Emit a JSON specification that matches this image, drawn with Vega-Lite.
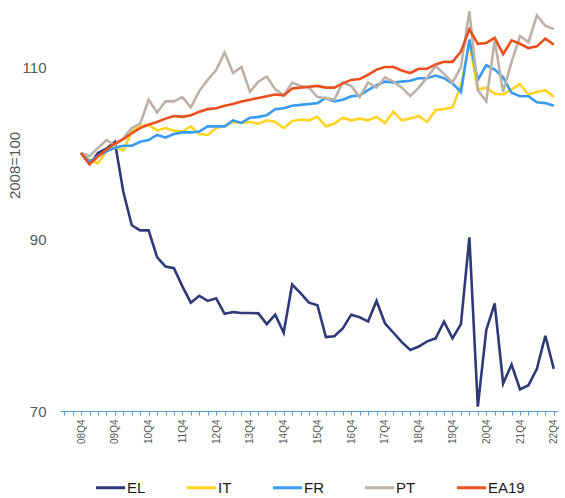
{
"$schema":"https://vega.github.io/schema/vega-lite/v6.json",
"width":498,"height":406,
"autosize":{"type":"none"},
"padding":{"left":60,"top":5,"right":7,"bottom":87},
"config":{"view":{"stroke":null},"font":"Liberation Sans"},
"data":{"values":[
{"s":"EL","q":"08Q4","v":100},{"s":"EL","q":"09Q1","v":98.7},{"s":"EL","q":"09Q2","v":100.0},{"s":"EL","q":"09Q3","v":100.5},{"s":"EL","q":"09Q4","v":101.3},
{"s":"EL","q":"10Q1","v":95.5},{"s":"EL","q":"10Q2","v":91.6},{"s":"EL","q":"10Q3","v":91.0},{"s":"EL","q":"10Q4","v":91.0},
{"s":"EL","q":"11Q1","v":87.9},{"s":"EL","q":"11Q2","v":86.8},{"s":"EL","q":"11Q3","v":86.6},{"s":"EL","q":"11Q4","v":84.5},
{"s":"EL","q":"12Q1","v":82.6},{"s":"EL","q":"12Q2","v":83.4},{"s":"EL","q":"12Q3","v":82.8},{"s":"EL","q":"12Q4","v":83.1},
{"s":"EL","q":"13Q1","v":81.3},{"s":"EL","q":"13Q2","v":81.5},{"s":"EL","q":"13Q3","v":81.4},{"s":"EL","q":"13Q4","v":81.4},
{"s":"EL","q":"14Q1","v":81.35},{"s":"EL","q":"14Q2","v":80.1},{"s":"EL","q":"14Q3","v":81.2},{"s":"EL","q":"14Q4","v":79.1},
{"s":"EL","q":"15Q1","v":84.7},{"s":"EL","q":"15Q2","v":83.7},{"s":"EL","q":"15Q3","v":82.6},{"s":"EL","q":"15Q4","v":82.3},
{"s":"EL","q":"16Q1","v":78.6},{"s":"EL","q":"16Q2","v":78.7},{"s":"EL","q":"16Q3","v":79.6},{"s":"EL","q":"16Q4","v":81.2},
{"s":"EL","q":"17Q1","v":80.9},{"s":"EL","q":"17Q2","v":80.4},{"s":"EL","q":"17Q3","v":82.8},{"s":"EL","q":"17Q4","v":80.2},
{"s":"EL","q":"18Q1","v":79.1},{"s":"EL","q":"18Q2","v":78.0},{"s":"EL","q":"18Q3","v":77.1},{"s":"EL","q":"18Q4","v":77.5},
{"s":"EL","q":"19Q1","v":78.1},{"s":"EL","q":"19Q2","v":78.45},{"s":"EL","q":"19Q3","v":80.4},{"s":"EL","q":"19Q4","v":78.45},
{"s":"EL","q":"20Q1","v":80.1},{"s":"EL","q":"20Q2","v":90.2},{"s":"EL","q":"20Q3","v":70.5},{"s":"EL","q":"20Q4","v":79.4},
{"s":"EL","q":"21Q1","v":82.5},{"s":"EL","q":"21Q2","v":73.2},{"s":"EL","q":"21Q3","v":75.4},{"s":"EL","q":"21Q4","v":72.5},
{"s":"EL","q":"22Q1","v":73.0},{"s":"EL","q":"22Q2","v":74.9},{"s":"EL","q":"22Q3","v":78.75},{"s":"EL","q":"22Q4","v":74.9},
{"s":"IT","q":"08Q4","v":100},{"s":"IT","q":"09Q1","v":99.2},{"s":"IT","q":"09Q2","v":98.8},{"s":"IT","q":"09Q3","v":100.2},{"s":"IT","q":"09Q4","v":100.7},
{"s":"IT","q":"10Q1","v":100.3},{"s":"IT","q":"10Q2","v":102.5},{"s":"IT","q":"10Q3","v":103.1},{"s":"IT","q":"10Q4","v":103.3},
{"s":"IT","q":"11Q1","v":102.6},{"s":"IT","q":"11Q2","v":102.9},{"s":"IT","q":"11Q3","v":102.6},{"s":"IT","q":"11Q4","v":102.5},
{"s":"IT","q":"12Q1","v":103.1},{"s":"IT","q":"12Q2","v":102.2},{"s":"IT","q":"12Q3","v":102.1},{"s":"IT","q":"12Q4","v":102.9},
{"s":"IT","q":"13Q1","v":103.1},{"s":"IT","q":"13Q2","v":103.6},{"s":"IT","q":"13Q3","v":103.5},{"s":"IT","q":"13Q4","v":103.6},
{"s":"IT","q":"14Q1","v":103.4},{"s":"IT","q":"14Q2","v":103.8},{"s":"IT","q":"14Q3","v":103.6},{"s":"IT","q":"14Q4","v":102.9},
{"s":"IT","q":"15Q1","v":103.7},{"s":"IT","q":"15Q2","v":103.9},{"s":"IT","q":"15Q3","v":103.8},{"s":"IT","q":"15Q4","v":104.2},
{"s":"IT","q":"16Q1","v":103.1},{"s":"IT","q":"16Q2","v":103.4},{"s":"IT","q":"16Q3","v":104.1},{"s":"IT","q":"16Q4","v":103.8},
{"s":"IT","q":"17Q1","v":104.0},{"s":"IT","q":"17Q2","v":103.8},{"s":"IT","q":"17Q3","v":104.2},{"s":"IT","q":"17Q4","v":103.5},
{"s":"IT","q":"18Q1","v":104.8},{"s":"IT","q":"18Q2","v":103.8},{"s":"IT","q":"18Q3","v":104.0},{"s":"IT","q":"18Q4","v":104.3},
{"s":"IT","q":"19Q1","v":103.6},{"s":"IT","q":"19Q2","v":105.0},{"s":"IT","q":"19Q3","v":105.1},{"s":"IT","q":"19Q4","v":105.3},
{"s":"IT","q":"20Q1","v":107.8},{"s":"IT","q":"20Q2","v":112.75},{"s":"IT","q":"20Q3","v":107.4},{"s":"IT","q":"20Q4","v":107.6},
{"s":"IT","q":"21Q1","v":106.9},{"s":"IT","q":"21Q2","v":106.8},{"s":"IT","q":"21Q3","v":107.4},{"s":"IT","q":"21Q4","v":108.0},
{"s":"IT","q":"22Q1","v":106.8},{"s":"IT","q":"22Q2","v":107.1},{"s":"IT","q":"22Q3","v":107.3},{"s":"IT","q":"22Q4","v":106.5},
{"s":"FR","q":"08Q4","v":100},{"s":"FR","q":"09Q1","v":99.0},{"s":"FR","q":"09Q2","v":99.65},{"s":"FR","q":"09Q3","v":100.2},{"s":"FR","q":"09Q4","v":100.6},
{"s":"FR","q":"10Q1","v":100.85},{"s":"FR","q":"10Q2","v":100.85},{"s":"FR","q":"10Q3","v":101.3},{"s":"FR","q":"10Q4","v":101.5},
{"s":"FR","q":"11Q1","v":102.1},{"s":"FR","q":"11Q2","v":101.8},{"s":"FR","q":"11Q3","v":102.2},{"s":"FR","q":"11Q4","v":102.4},
{"s":"FR","q":"12Q1","v":102.4},{"s":"FR","q":"12Q2","v":102.5},{"s":"FR","q":"12Q3","v":103.1},{"s":"FR","q":"12Q4","v":103.1},
{"s":"FR","q":"13Q1","v":103.1},{"s":"FR","q":"13Q2","v":103.8},{"s":"FR","q":"13Q3","v":103.5},{"s":"FR","q":"13Q4","v":104.1},
{"s":"FR","q":"14Q1","v":104.2},{"s":"FR","q":"14Q2","v":104.4},{"s":"FR","q":"14Q3","v":105.1},{"s":"FR","q":"14Q4","v":105.2},
{"s":"FR","q":"15Q1","v":105.5},{"s":"FR","q":"15Q2","v":105.6},{"s":"FR","q":"15Q3","v":105.7},{"s":"FR","q":"15Q4","v":105.8},
{"s":"FR","q":"16Q1","v":106.4},{"s":"FR","q":"16Q2","v":106.0},{"s":"FR","q":"16Q3","v":106.2},{"s":"FR","q":"16Q4","v":106.6},
{"s":"FR","q":"17Q1","v":106.7},{"s":"FR","q":"17Q2","v":107.3},{"s":"FR","q":"17Q3","v":107.9},{"s":"FR","q":"17Q4","v":108.3},
{"s":"FR","q":"18Q1","v":108.2},{"s":"FR","q":"18Q2","v":108.3},{"s":"FR","q":"18Q3","v":108.4},{"s":"FR","q":"18Q4","v":108.7},
{"s":"FR","q":"19Q1","v":108.7},{"s":"FR","q":"19Q2","v":109.0},{"s":"FR","q":"19Q3","v":108.7},{"s":"FR","q":"19Q4","v":108.1},
{"s":"FR","q":"20Q1","v":107.1},{"s":"FR","q":"20Q2","v":113.2},{"s":"FR","q":"20Q3","v":108.5},{"s":"FR","q":"20Q4","v":110.2},
{"s":"FR","q":"21Q1","v":109.7},{"s":"FR","q":"21Q2","v":108.8},{"s":"FR","q":"21Q3","v":107.0},{"s":"FR","q":"21Q4","v":106.6},
{"s":"FR","q":"22Q1","v":106.6},{"s":"FR","q":"22Q2","v":105.9},{"s":"FR","q":"22Q3","v":105.8},{"s":"FR","q":"22Q4","v":105.5},
{"s":"PT","q":"08Q4","v":100},{"s":"PT","q":"09Q1","v":99.65},{"s":"PT","q":"09Q2","v":100.6},{"s":"PT","q":"09Q3","v":101.5},{"s":"PT","q":"09Q4","v":100.9},
{"s":"PT","q":"10Q1","v":101.7},{"s":"PT","q":"10Q2","v":102.9},{"s":"PT","q":"10Q3","v":103.4},{"s":"PT","q":"10Q4","v":106.2},
{"s":"PT","q":"11Q1","v":104.7},{"s":"PT","q":"11Q2","v":106.0},{"s":"PT","q":"11Q3","v":106.0},{"s":"PT","q":"11Q4","v":106.5},
{"s":"PT","q":"12Q1","v":105.3},{"s":"PT","q":"12Q2","v":107.2},{"s":"PT","q":"12Q3","v":108.5},{"s":"PT","q":"12Q4","v":109.65},
{"s":"PT","q":"13Q1","v":111.7},{"s":"PT","q":"13Q2","v":109.3},{"s":"PT","q":"13Q3","v":110.0},{"s":"PT","q":"13Q4","v":107.1},
{"s":"PT","q":"14Q1","v":108.3},{"s":"PT","q":"14Q2","v":108.9},{"s":"PT","q":"14Q3","v":107.4},{"s":"PT","q":"14Q4","v":106.7},
{"s":"PT","q":"15Q1","v":108.2},{"s":"PT","q":"15Q2","v":107.8},{"s":"PT","q":"15Q3","v":107.6},{"s":"PT","q":"15Q4","v":106.5},
{"s":"PT","q":"16Q1","v":106.4},{"s":"PT","q":"16Q2","v":106.2},{"s":"PT","q":"16Q3","v":108.2},{"s":"PT","q":"16Q4","v":107.8},
{"s":"PT","q":"17Q1","v":106.5},{"s":"PT","q":"17Q2","v":108.2},{"s":"PT","q":"17Q3","v":107.6},{"s":"PT","q":"17Q4","v":108.8},
{"s":"PT","q":"18Q1","v":108.3},{"s":"PT","q":"18Q2","v":107.6},{"s":"PT","q":"18Q3","v":106.6},{"s":"PT","q":"18Q4","v":107.6},
{"s":"PT","q":"19Q1","v":108.8},{"s":"PT","q":"19Q2","v":110.1},{"s":"PT","q":"19Q3","v":109.2},{"s":"PT","q":"19Q4","v":108.2},
{"s":"PT","q":"20Q1","v":110.0},{"s":"PT","q":"20Q2","v":116.5},{"s":"PT","q":"20Q3","v":107.3},{"s":"PT","q":"20Q4","v":106.0},
{"s":"PT","q":"21Q1","v":113.1},{"s":"PT","q":"21Q2","v":107.1},{"s":"PT","q":"21Q3","v":110.6},{"s":"PT","q":"21Q4","v":113.6},
{"s":"PT","q":"22Q1","v":112.9},{"s":"PT","q":"22Q2","v":116.0},{"s":"PT","q":"22Q3","v":114.8},{"s":"PT","q":"22Q4","v":114.4},
{"s":"EA19","q":"08Q4","v":100},{"s":"EA19","q":"09Q1","v":98.7},{"s":"EA19","q":"09Q2","v":99.6},{"s":"EA19","q":"09Q3","v":100.4},{"s":"EA19","q":"09Q4","v":101.1},
{"s":"EA19","q":"10Q1","v":101.6},{"s":"EA19","q":"10Q2","v":102.3},{"s":"EA19","q":"10Q3","v":102.9},{"s":"EA19","q":"10Q4","v":103.3},
{"s":"EA19","q":"11Q1","v":103.6},{"s":"EA19","q":"11Q2","v":104.0},{"s":"EA19","q":"11Q3","v":104.3},{"s":"EA19","q":"11Q4","v":104.2},
{"s":"EA19","q":"12Q1","v":104.4},{"s":"EA19","q":"12Q2","v":104.8},{"s":"EA19","q":"12Q3","v":105.1},{"s":"EA19","q":"12Q4","v":105.2},
{"s":"EA19","q":"13Q1","v":105.5},{"s":"EA19","q":"13Q2","v":105.7},{"s":"EA19","q":"13Q3","v":106.0},{"s":"EA19","q":"13Q4","v":106.2},
{"s":"EA19","q":"14Q1","v":106.4},{"s":"EA19","q":"14Q2","v":106.6},{"s":"EA19","q":"14Q3","v":106.8},{"s":"EA19","q":"14Q4","v":106.7},
{"s":"EA19","q":"15Q1","v":107.5},{"s":"EA19","q":"15Q2","v":107.6},{"s":"EA19","q":"15Q3","v":107.7},{"s":"EA19","q":"15Q4","v":107.8},
{"s":"EA19","q":"16Q1","v":107.6},{"s":"EA19","q":"16Q2","v":107.6},{"s":"EA19","q":"16Q3","v":108.1},{"s":"EA19","q":"16Q4","v":108.5},
{"s":"EA19","q":"17Q1","v":108.6},{"s":"EA19","q":"17Q2","v":109.1},{"s":"EA19","q":"17Q3","v":109.7},{"s":"EA19","q":"17Q4","v":110.0},
{"s":"EA19","q":"18Q1","v":110.0},{"s":"EA19","q":"18Q2","v":109.6},{"s":"EA19","q":"18Q3","v":109.3},{"s":"EA19","q":"18Q4","v":109.8},
{"s":"EA19","q":"19Q1","v":109.8},{"s":"EA19","q":"19Q2","v":110.3},{"s":"EA19","q":"19Q3","v":110.6},{"s":"EA19","q":"19Q4","v":110.6},
{"s":"EA19","q":"20Q1","v":111.8},{"s":"EA19","q":"20Q2","v":114.4},{"s":"EA19","q":"20Q3","v":112.7},{"s":"EA19","q":"20Q4","v":112.8},
{"s":"EA19","q":"21Q1","v":113.4},{"s":"EA19","q":"21Q2","v":111.5},{"s":"EA19","q":"21Q3","v":113.1},{"s":"EA19","q":"21Q4","v":112.7},
{"s":"EA19","q":"22Q1","v":112.2},{"s":"EA19","q":"22Q2","v":112.4},{"s":"EA19","q":"22Q3","v":113.3},{"s":"EA19","q":"22Q4","v":112.6}
]},
"mark":{"type":"line","strokeWidth":2.6},
"encoding":{
"x":{"field":"q","type":"ordinal",
"scale":{"type":"point","padding":0.5,"domain":["08Q2","08Q3","08Q4","09Q1","09Q2","09Q3","09Q4","10Q1","10Q2","10Q3","10Q4","11Q1","11Q2","11Q3","11Q4","12Q1","12Q2","12Q3","12Q4","13Q1","13Q2","13Q3","13Q4","14Q1","14Q2","14Q3","14Q4","15Q1","15Q2","15Q3","15Q4","16Q1","16Q2","16Q3","16Q4","17Q1","17Q2","17Q3","17Q4","18Q1","18Q2","18Q3","18Q4","19Q1","19Q2","19Q3","19Q4","20Q1","20Q2","20Q3","20Q4","21Q1","21Q2","21Q3","21Q4","22Q1","22Q2","22Q3","22Q4"]},
"axis":{"title":null,"labelAngle":270,"labelExpr":"indexof(datum.value,'Q4')>0 ? datum.value : ''","labelOverlap":false,"domainColor":"#5B9BD5","tickColor":"#5B9BD5","tickSize":4,"domainWidth":1,"labelFontSize":10,"labelColor":"#595959","labelPadding":4,"grid":false}},
"y":{"field":"v","type":"quantitative",
"scale":{"domain":[70,117.21],"nice":false,"zero":false},
"axis":{"title":"2008=100","values":[70,90,110],"domain":false,"ticks":false,"grid":false,"labelFontSize":15,"labelColor":"#595959","labelPadding":14,"titleFontSize":15,"titleFontWeight":"normal","titleColor":"#595959","titlePadding":0,"titleY":160}},
"color":{"field":"s","type":"nominal",
"scale":{"domain":["EL","IT","FR","PT","EA19"],"range":["#2F3A78","#FFD424","#3A9BF2","#BDB2AA","#E8511E"]},
"legend":{"title":null,"orient":"none","legendX":34,"legendY":466,"direction":"horizontal","symbolType":"stroke","symbolSize":850,"symbolStrokeWidth":3,"labelFontSize":15,"labelColor":"#1a1a1a","labelOffset":0,"columnPadding":34,"padding":0}}
}
}
